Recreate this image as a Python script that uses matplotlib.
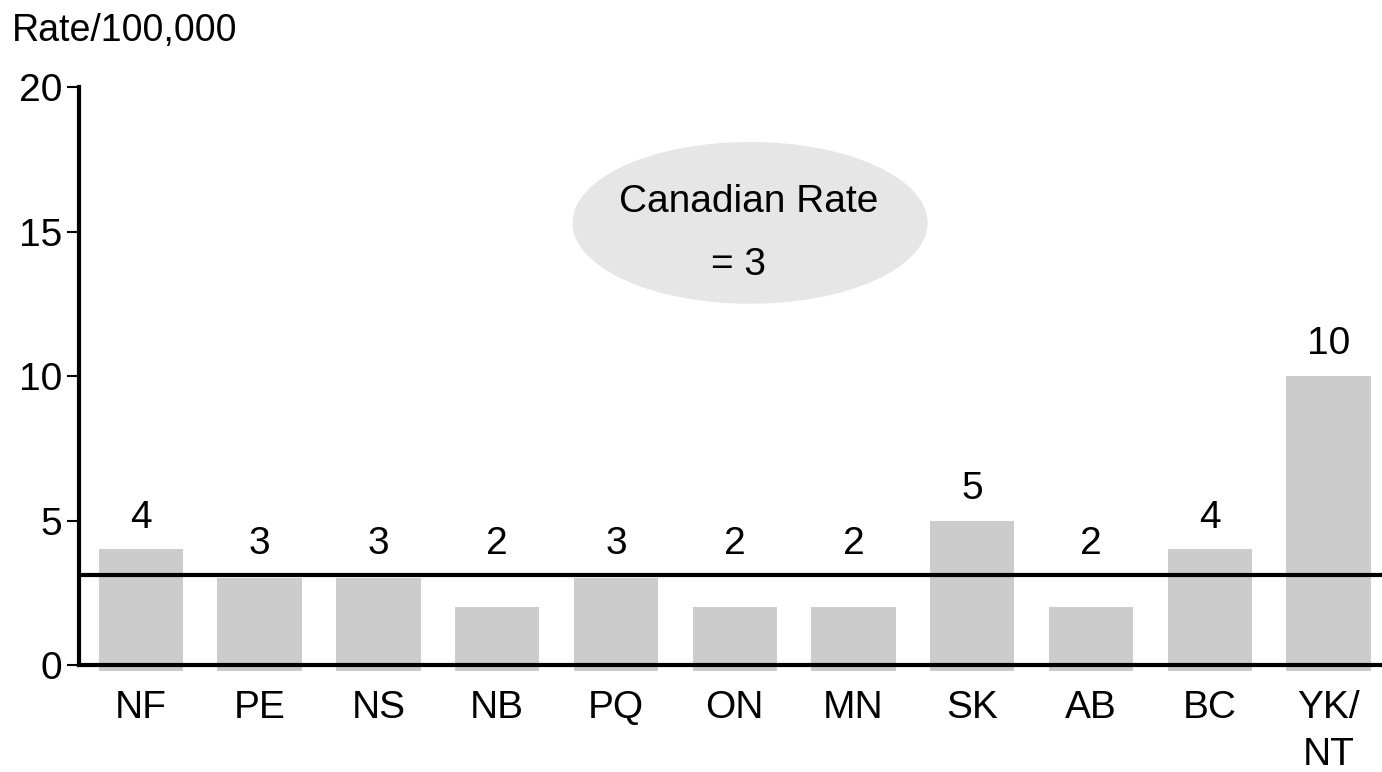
import matplotlib.pyplot as plt
from matplotlib.patches import Ellipse

plt.rcParams['font.family'] = ['Liberation Sans', 'DejaVu Sans']

# provincial rates per 100,000
provinces = ['NF', 'PE', 'NS', 'NB', 'PQ', 'ON', 'MN', 'SK', 'AB', 'BC', 'YK/\nNT']
rates = [4, 3, 3, 2, 3, 2, 2, 5, 2, 4, 10]
canada_rate = 3.1
y_ticks = [0, 5, 10, 15, 20]

fig = plt.figure(figsize=(13.82, 7.72), dpi=100)
ax = fig.add_axes([0.0572, 0.1386, 0.9428, 0.7487])

x = list(range(len(provinces)))
# bars start a little under the axis line, like the original
ax.bar(x, [r + 0.2 for r in rates], bottom=-0.2, width=0.71,
       color='#cccccc', zorder=1, clip_on=False)

ax.axhline(canada_rate, color='black', linewidth=3, zorder=3)

for xi, r in zip(x, rates):
    ax.text(xi, max(r, canada_rate) + 1.1, str(r), ha='center', va='center',
            fontsize=28)

# label bubble
ax.add_patch(Ellipse((0.515, 0.765), 0.2725, 0.28, transform=ax.transAxes,
                     facecolor='#e6e6e6', edgecolor='none', zorder=0))
ax.text(0.514, 0.801, 'Canadian Rate', transform=ax.transAxes,
        ha='center', va='center', fontsize=28)
ax.text(0.5065, 0.692, '= 3', transform=ax.transAxes,
        ha='center', va='center', fontsize=28)

ax.set_xlim(-0.52, 10.45)
ax.set_ylim(0, 20)
ax.set_yticks(y_ticks)
ax.set_yticklabels([str(t) for t in y_ticks], fontsize=28)
ax.set_xticks(x)
ax.set_xticklabels(provinces, fontsize=28, linespacing=1.4)
ax.tick_params(axis='x', length=0, pad=18)
ax.tick_params(axis='y', length=9, width=1.5, pad=3)

for side in ['top', 'right']:
    ax.spines[side].set_visible(False)
for side in ['left', 'bottom']:
    ax.spines[side].set_linewidth(3)
    ax.spines[side].set_zorder(4)

fig.text(12 / 1382, 1 - 31 / 772, 'Rate/100,000', ha='left', va='center',
         fontsize=27)

fig.savefig('out.png', dpi=100)
